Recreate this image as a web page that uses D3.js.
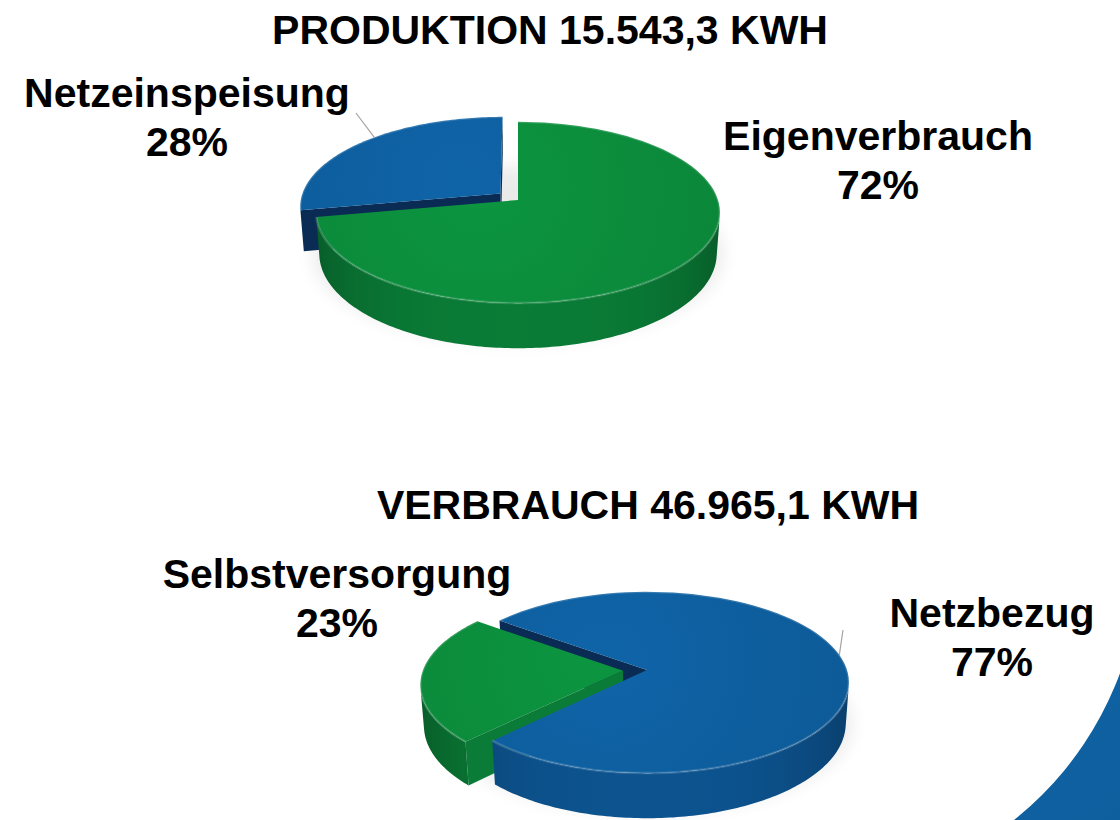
<!DOCTYPE html>
<html>
<head>
<meta charset="utf-8">
<script src="https://cdn.jsdelivr.net/npm/d3@7"></script>
<style>
  body { margin: 0; background: #fff; }
  svg { display: block; font-family: "Liberation Sans", Arial, sans-serif; }
  .title, .label { font-weight: bold; font-size: 41px; fill: #000; text-anchor: middle; }
  .leader { stroke: #a3a3a3; stroke-width: 1.2; fill: none; }
</style>
</head>
<body>
<div id="chart"></div>
<script>
"use strict";

var titles = ["PRODUKTION 15.543,3 KWH", "VERBRAUCH 46.965,1 KWH"];
var prodLabels = ["Eigenverbrauch", "Netzeinspeisung"];
var prodValues = [72, 28];
var consLabels = ["Selbstversorgung", "Netzbezug"];
var consValues = [23, 77];

var width = 1120,
    height = 820;

var palette = {
  green: { top: "#0b8c3c", side: "#0a8038", cut: "#0b7c37" },
  blue: { top: "#0e5e9e", side: "#0d5694", cut: "#0a2c54" }
};
var sliceColor = {
  Eigenverbrauch: "green",
  Netzeinspeisung: "blue",
  Selbstversorgung: "green",
  Netzbezug: "blue"
};

// simple perspective camera looking down at the disc (radius 1)
var cam = { D: 6.5, F: 1300, phi: 26.4 * Math.PI / 180, h: 0.23 };
var cosP = Math.cos(cam.phi),
    sinP = Math.sin(cam.phi);

var pies = [
  {
    title: titles[0], labels: prodLabels, values: prodValues,
    cx: 518, cy: 200, start: 0,
    explode: { Netzeinspeisung: 0.115 },
    titlePos: [550, 44],
    labelPos: { Eigenverbrauch: [878, 150], Netzeinspeisung: [187, 107] },
    leader: { label: "Netzeinspeisung", angle: 315, from: [356, 113] }
  },
  {
    title: titles[1], labels: consLabels, values: consValues,
    cx: 647, cy: 670, start: 224.2,
    explode: { Selbstversorgung: 0.12 },
    titlePos: [648, 519],
    labelPos: { Selbstversorgung: [337, 588], Netzbezug: [992, 627] },
    leader: { label: "Netzbezug", angle: 80, from: [843, 630] }
  }
];

var svg = d3.select("#chart").append("svg")
  .attr("width", width)
  .attr("height", height);

var defs = svg.append("defs");

defs.append("filter")
  .attr("id", "soft")
  .attr("x", "-50%").attr("y", "-50%")
  .attr("width", "200%").attr("height", "200%")
  .append("feGaussianBlur")
  .attr("stdDeviation", 9);

function project(p, u, w, z) {
  var depth = cam.D - (w * cosP + z * sinP);
  return [p.cx + cam.F * u / depth, p.cy + cam.F * (w * sinP - z * cosP) / depth];
}

function camDist(u, w, z) {
  var dw = w - cam.D * cosP, dz = z - cam.D * sinP;
  return Math.sqrt(u * u + dw * dw + dz * dz);
}

function facing(u, w, z, nu, nw) {
  return nu * (0 - u) + nw * (cam.D * cosP - w) > 0;
}

function wallShade(t) {
  return 0.1 + 0.85 * Math.pow(Math.abs(Math.sin(t)), 3);
}

var line = d3.line();

// decorative ring piece in the bottom right corner
var ringArc = d3.arc()
  .innerRadius(338)
  .outerRadius(720)
  .startAngle(Math.PI / 2)
  .endAngle(Math.PI);

var ringGrad = defs.append("linearGradient")
  .attr("id", "ring-grad")
  .attr("x1", "0%").attr("y1", "0%").attr("x2", "100%").attr("y2", "100%");
ringGrad.append("stop").attr("offset", "0%").attr("stop-color", "#1066a8");
ringGrad.append("stop").attr("offset", "100%").attr("stop-color", "#0c5590");

svg.append("path")
  .attr("transform", "translate(803,556)")
  .attr("d", ringArc())
  .attr("fill", "url(#ring-grad)");

pies.forEach(function(p, pi) {
  var pie = d3.pie()
    .sort(null)
    .startAngle(p.start * Math.PI / 180)
    .endAngle(p.start * Math.PI / 180 + Math.PI * 2);

  var arcs = pie(p.values).map(function(a, i) {
    var label = p.labels[i];
    var e = p.explode[label] || 0;
    var mid = (a.startAngle + a.endAngle) / 2;
    return {
      label: label,
      value: a.value,
      a0: a.startAngle,
      a1: a.endAngle,
      ou: e * Math.sin(mid),
      ow: -e * Math.cos(mid),
      colors: palette[sliceColor[label]]
    };
  });

  var g = svg.append("g").attr("class", "pie pie-" + pi);

  // soft floor shadow
  var sc = project(p, 0, 0.08, -cam.h);
  g.append("ellipse")
    .attr("cx", sc[0])
    .attr("cy", sc[1] + 6)
    .attr("rx", 205)
    .attr("ry", 88)
    .attr("fill", "#000")
    .attr("opacity", 0.08)
    .attr("filter", "url(#soft)");

  var faces = [];
  var gradCount = 0;

  arcs.forEach(function(s) {
    var steps = Math.max(2, Math.ceil((s.a1 - s.a0) / (Math.PI / 180)));
    var da = (s.a1 - s.a0) / steps;
    var runs = [], run = null;

    // visible runs of the outer wall
    for (var k = 0; k <= steps; k++) {
      var t = s.a0 + k * da;
      var tm = Math.min(t + da / 2, s.a1 - 1e-6);
      var um = s.ou + Math.sin(tm),
          wm = s.ow - Math.cos(tm);
      var vis = k < steps && facing(um, wm, -cam.h / 2, Math.sin(tm), -Math.cos(tm));
      if (vis) {
        if (!run) { run = [t]; runs.push(run); }
        run.push(t + da);
      } else {
        run = null;
      }
    }

    runs.forEach(function(r) {
      var topPts = r.map(function(t) {
        return project(p, s.ou + Math.sin(t), s.ow - Math.cos(t), 0);
      });
      var botPts = r.map(function(t) {
        return project(p, s.ou + Math.sin(t), s.ow - Math.cos(t), -cam.h);
      }).reverse();

      var xs = topPts.map(function(d) { return d[0]; });
      var x0 = d3.min(xs), x1 = d3.max(xs);
      var id = "wall-" + pi + "-" + (gradCount++);
      var grad = defs.append("linearGradient")
        .attr("id", id)
        .attr("gradientUnits", "userSpaceOnUse")
        .attr("x1", x0).attr("y1", 0)
        .attr("x2", x1).attr("y2", 0);
      var stops = r.filter(function(t, j) { return j % 4 === 0 || j === r.length - 1; })
        .map(function(t) {
          var x = project(p, s.ou + Math.sin(t), s.ow - Math.cos(t), 0)[0];
          return {
            offset: x1 > x0 ? (x - x0) / (x1 - x0) : 0,
            color: d3.color(s.colors.side).darker(wallShade(t)).formatHex()
          };
        })
        .sort(function(a, b) { return a.offset - b.offset; });
      grad.selectAll("stop")
        .data(stops)
      .enter().append("stop")
        .attr("offset", function(d) { return d.offset; })
        .attr("stop-color", function(d) { return d.color; });

      var tmid = r[Math.floor(r.length / 2)];
      faces.push({
        pts: topPts.concat(botPts),
        fill: "url(#" + id + ")",
        dist: camDist(s.ou + Math.sin(tmid), s.ow - Math.cos(tmid), -cam.h / 2)
      });
    });

    // radial cut walls at both ends of the slice
    [[s.a0, -1], [s.a1, 1]].forEach(function(edge) {
      var t = edge[0],
          sign = edge[1];
      var nu = sign * Math.cos(t),
          nw = sign * Math.sin(t);
      var um = s.ou + Math.sin(t) / 2,
          wm = s.ow - Math.cos(t) / 2;
      if (!facing(um, wm, -cam.h / 2, nu, nw)) return;
      faces.push({
        pts: [
          project(p, s.ou, s.ow, 0),
          project(p, s.ou + Math.sin(t), s.ow - Math.cos(t), 0),
          project(p, s.ou + Math.sin(t), s.ow - Math.cos(t), -cam.h),
          project(p, s.ou, s.ow, -cam.h)
        ],
        fill: s.colors.cut,
        dist: camDist(um, wm, -cam.h / 2)
      });
    });
  });

  faces.sort(function(a, b) { return b.dist - a.dist; });

  g.append("g").selectAll("path")
    .data(faces)
  .enter().append("path")
    .attr("d", function(d) { return line(d.pts) + "Z"; })
    .attr("fill", function(d) { return d.fill; });

  // top faces
  arcs.forEach(function(s, i) {
    var id = "top-" + pi + "-" + i;
    var c = project(p, s.ou, s.ow, 0);
    var grad = defs.append("radialGradient")
      .attr("id", id)
      .attr("gradientUnits", "userSpaceOnUse")
      .attr("cx", c[0] - 40).attr("cy", c[1] - 10)
      .attr("r", 260);
    grad.append("stop").attr("offset", "0%")
      .attr("stop-color", d3.color(s.colors.top).brighter(0.18).formatHex());
    grad.append("stop").attr("offset", "100%")
      .attr("stop-color", d3.color(s.colors.top).darker(0.12).formatHex());

    var rim = d3.range(0, 91).map(function(j) {
      var t = s.a0 + (s.a1 - s.a0) * j / 90;
      return project(p, s.ou + Math.sin(t), s.ow - Math.cos(t), 0);
    });

    g.append("path")
      .attr("class", "slice-top")
      .attr("d", line([c].concat(rim)) + "Z")
      .attr("fill", "url(#" + id + ")");

    // light bevel along the rim
    g.append("path")
      .attr("d", line(rim))
      .attr("fill", "none")
      .attr("stroke", "#ffffff")
      .attr("stroke-opacity", 0.16)
      .attr("stroke-width", 2.5);
  });

  // leader line
  var ls = arcs.filter(function(s) { return s.label === p.leader.label; })[0];
  var la = p.leader.angle * Math.PI / 180;
  var le = project(p, ls.ou + Math.sin(la), ls.ow - Math.cos(la), 0);
  svg.append("path")
    .attr("class", "leader")
    .attr("d", line([p.leader.from, le]));

  // title and labels
  svg.append("text")
    .attr("class", "title")
    .attr("x", p.titlePos[0])
    .attr("y", p.titlePos[1])
    .text(p.title);

  arcs.forEach(function(s) {
    var pos = p.labelPos[s.label];
    var t = svg.append("text")
      .attr("class", "label")
      .attr("x", pos[0])
      .attr("y", pos[1]);
    t.append("tspan")
      .attr("x", pos[0])
      .text(s.label);
    t.append("tspan")
      .attr("x", pos[0])
      .attr("dy", 49)
      .text(s.value + "%");
  });
});
</script>
</body>
</html>
